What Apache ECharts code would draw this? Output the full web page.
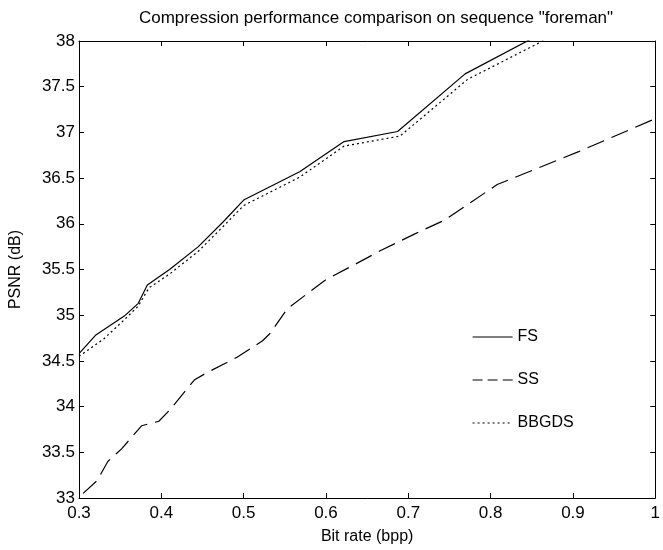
<!DOCTYPE html>
<html>
<head>
<meta charset="utf-8">
<script src="https://cdn.jsdelivr.net/npm/echarts@6/dist/echarts.min.js"></script>
<style>html,body{margin:0;padding:0;background:#fff}#c{width:663px;height:550px}</style>
</head>
<body>
<div id="c"></div>
<script>
const fsX = [0.30, 0.32, 0.355, 0.372, 0.383, 0.41, 0.445, 0.475, 0.50, 0.568, 0.622, 0.687, 0.769, 0.853];
const fsY = [34.58, 34.78, 34.99, 35.13, 35.33, 35.50, 35.75, 36.02, 36.26, 36.57, 36.90, 37.01, 37.64, 38.04];
const bbX = [0.30, 0.33, 0.355, 0.372, 0.385, 0.41, 0.445, 0.475, 0.50, 0.568, 0.622, 0.69, 0.772, 0.872];
const bbY = [34.55, 34.74, 34.95, 35.10, 35.30, 35.45, 35.70, 35.97, 36.20, 36.51, 36.85, 36.96, 37.58, 38.04];
const ssX = [0.305, 0.322, 0.335, 0.352, 0.376, 0.397, 0.41, 0.44, 0.455, 0.492, 0.523, 0.532, 0.553, 0.60, 0.636, 0.667, 0.708, 0.744, 0.808, 0.907, 1.0];
const ssY = [33.05, 33.19, 33.40, 33.54, 33.79, 33.84, 33.96, 34.29, 34.37, 34.54, 34.72, 34.80, 35.07, 35.39, 35.56, 35.71, 35.89, 36.04, 36.43, 36.79, 37.15];
const seriesNames = ['FS', 'SS', 'BBGDS'];
const titleText = 'Compression performance comparison on sequence "foreman"';
const xName = 'Bit rate (bpp)';
const yName = 'PSNR (dB)';

const zip = (a, b) => a.map((v, i) => [v, b[i]]);
const font = 'Liberation Sans, Arial, sans-serif';
const dashes = {FS: 'solid', SS: [10, 5], BBGDS: [2, 3]};
const axisCommon = {
  axisLine: {show: true, onZero: false, lineStyle: {color: '#000', width: 1}},
  axisTick: {show: true, inside: true, length: 5, lineStyle: {color: '#000'}},
  splitLine: {show: false}
};
const chart = echarts.init(document.getElementById('c'));
chart.setOption({
  animation: false,
  backgroundColor: '#fff',
  title: {text: titleText, left: 371, textAlign: 'center', top: 5,
    textStyle: {fontFamily: font, fontSize: 17, fontWeight: 'normal', color: '#000'}},
  grid: {left: 77, right: 4, top: 41, bottom: 45},
  legend: {
    orient: 'vertical', left: 467, top: 324, itemWidth: 40, itemHeight: 14, itemGap: 27,
    itemStyle: {opacity: 0},
    data: seriesNames.map(n => ({name: n, lineStyle: {type: dashes[n], color: '#000', width: 1.2}})),
    textStyle: {fontFamily: font, fontSize: 16, color: '#000'}
  },
  xAxis: [
    Object.assign({type: 'value', min: 0.3, max: 1, interval: 0.1, position: 'bottom',
      name: xName, nameLocation: 'middle', nameGap: 31,
      nameTextStyle: {fontFamily: font, fontSize: 16, color: '#000'},
      axisLabel: {fontFamily: font, fontSize: 17, color: '#000', margin: 7}}, axisCommon),
    Object.assign({type: 'value', min: 0.3, max: 1, interval: 0.1, position: 'top',
      axisLabel: {show: false}}, axisCommon)
  ],
  yAxis: [
    Object.assign({type: 'value', min: 33, max: 38, interval: 0.5, position: 'left',
      name: yName, nameLocation: 'middle', nameGap: 55, nameRotate: 90,
      nameTextStyle: {fontFamily: font, fontSize: 16, color: '#000'},
      axisLabel: {fontFamily: font, fontSize: 17, color: '#000', margin: 4}}, axisCommon),
    Object.assign({type: 'value', min: 33, max: 38, interval: 0.5, position: 'right',
      axisLabel: {show: false}}, axisCommon)
  ],
  series: [
    {name: 'FS', type: 'line', data: zip(fsX, fsY), showSymbol: false, symbol: 'none', clip: true,
      lineStyle: {color: '#000', width: 1.2, type: 'solid'}, itemStyle: {color: '#000'}},
    {name: 'SS', type: 'line', data: zip(ssX, ssY), showSymbol: false, symbol: 'none', clip: true,
      lineStyle: {color: '#000', width: 1.2, type: [18, 8]}, itemStyle: {color: '#000'}},
    {name: 'BBGDS', type: 'line', data: zip(bbX, bbY), showSymbol: false, symbol: 'none', clip: true,
      lineStyle: {color: '#000', width: 1.2, type: [2, 3]}, itemStyle: {color: '#000'}}
  ]
});
</script>
</body>
</html>
